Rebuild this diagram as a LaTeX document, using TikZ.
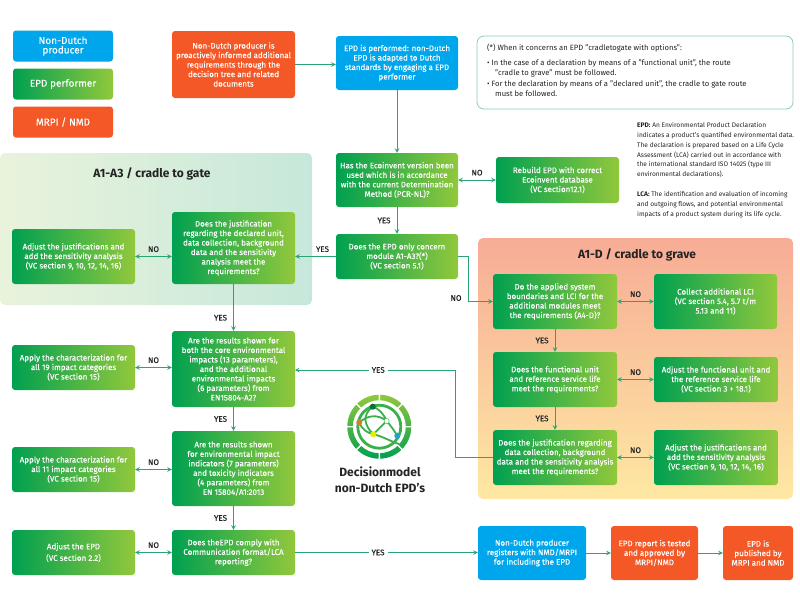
\documentclass[tikz,border=0pt]{standalone}
\usepackage{fontspec}
\setmainfont{Fira Sans}
\newfontfamily\boxfont[FakeBold=0.12]{Fira Sans}
\usepackage{xcolor}
\usetikzlibrary{shapes.geometric, arrows}
\definecolor{epdgreen}{RGB}{0,160,80}
\definecolor{epdlime}{RGB}{145,200,60}
\definecolor{epdblue}{RGB}{0,166,235}
\definecolor{epdorange}{RGB}{244,88,38}
\definecolor{epdline}{RGB}{40,165,115}
\definecolor{epdring}{RGB}{135,208,182}
\definecolor{epdink}{RGB}{35,35,35}
\definecolor{gateleft}{RGB}{233,243,220}
\definecolor{gateright}{RGB}{198,232,218}
\definecolor{gravetop}{RGB}{247,172,150}
\definecolor{gravebottom}{RGB}{254,232,163}
\tikzstyle{box} = [rectangle, rounded corners=3pt, align=center, text=white, font=\boxfont\fontsize{8}{9.5}\selectfont, inner sep=0pt]
\tikzstyle{greenbox} = [box, left color=epdgreen, right color=epdlime, minimum width=123pt, minimum height=55pt]
\tikzstyle{bluebox} = [box, fill=epdblue, minimum width=122pt, minimum height=54pt]
\tikzstyle{orangebox} = [box, fill=epdorange, minimum height=54pt]
\tikzstyle{legendbox} = [box, minimum width=100pt, minimum height=31pt, font=\boxfont\fontsize{10}{9.5}\selectfont]
\tikzstyle{arrow} = [draw=epdline, line width=1pt, ->, >=stealth]
\tikzstyle{both} = [draw=epdline, line width=1pt, <->, >=stealth]
\tikzstyle{answer} = [text=epdink, font=\boxfont\fontsize{8}{9}\selectfont, inner sep=1pt]
\tikzstyle{title} = [text=epdink, font=\fontsize{12}{13}\selectfont\bfseries]

\begin{document}
\begin{tikzpicture}[x=1pt, y=-1pt, node distance=80pt]
\useasboundingbox (0,0) rectangle (800,600);

% panels
\node (gatepanel) [rectangle, rounded corners=5pt, minimum width=312pt, minimum height=152pt, inner sep=0pt, left color=gateleft, right color=gateright] at (156,229) {};
\node (gravepanel) [rectangle, rounded corners=5pt, minimum width=315pt, minimum height=261pt, inner sep=0pt, top color=gravetop, bottom color=gravebottom] at (635.5,368.5) {};
\node (gatetitle) [title] at (152,174) {A1-A3 / cradle to gate};
\node (gravetitle) [title] at (637,255) {A1-D / cradle to grave};

% legend
\node (legendblue) [legendbox, fill=epdblue] at (63,46) {Non-Dutch\\producer};
\node (legendgreen) [legendbox, left color=epdgreen, right color=epdlime, below of=legendblue, yshift=42pt] {EPD performer};
\node (legendorange) [legendbox, fill=epdorange, below of=legendgreen, yshift=42pt] {MRPI / NMD};

% main column
\node (informed) [orangebox, minimum width=123pt, minimum height=67pt] at (233.5,64.5) {Non-Dutch producer is\\proactively informed additional\\requirements through the\\decision tree and related\\documents};
\node (performed) [bluebox, right of=informed, xshift=83.5pt, yshift=1.5pt] {EPD is performed: non-Dutch\\EPD is adapted to Dutch\\standards by engaging a EPD\\performer};
\node (ecoinvent) [greenbox, minimum width=122pt, minimum height=54pt, below of=performed, yshift=-37pt] {Has the Ecoinvent version been\\used which is in accordance\\with the current Determination\\Method (PCR-NL)?};
\node (rebuild) [greenbox, minimum height=46pt, right of=ecoinvent, xshift=80.5pt] {Rebuild EPD with correct\\Ecoinvent database\\(VC section12.1)};
\node (module) [greenbox, minimum width=122pt, minimum height=45pt, below of=ecoinvent, yshift=3.5pt] {Does the EPD only concern\\module A1-A3?(*)\\(VC section 5.1)};
\node (justify) [greenbox, minimum height=72pt, left of=module, xshift=-83.5pt, yshift=8.5pt] {Does the justification\\regarding the declared unit,\\data collection, background\\data and the sensitivity\\analysis meet the\\requirements?};
\node (adjustgate) [greenbox, left of=justify, xshift=-80pt, yshift=-8.5pt] {Adjust the justifications and\\add the sensitivity analysis\\(VC section 9, 10, 12, 14, 16)};
\node (resultsa) [greenbox, minimum height=76pt, below of=justify, yshift=-41pt] {Are the results shown for\\both the core environmental\\impacts (13 parameters),\\and the additional\\environmental impacts\\(6 parameters) from\\EN15804-A2?};
\node (applya) [greenbox, minimum height=45pt, left of=resultsa, xshift=-80pt, yshift=1.5pt] {Apply the characterization for\\all 19 impact categories\\(VC section 15)};
\node (resultsb) [greenbox, minimum height=75pt, below of=resultsa, yshift=-19.5pt] {Are the results shown\\for environmental impact\\indicators (7 parameters)\\and toxicity indicators\\(4 parameters) from\\EN 15804/A1:2013};
\node (applyb) [greenbox, minimum height=45pt, left of=resultsb, xshift=-80pt, yshift=-1pt] {Apply the characterization for\\all 11 impact categories\\(VC section 15)};
\node (comply) [greenbox, minimum height=45pt, below of=resultsb, yshift=-4pt] {Does theEPD comply with\\Communication format/LCA\\reporting?};
\node (adjustepd) [greenbox, minimum height=45pt, left of=comply, xshift=-80pt] {Adjust the EPD\\[2pt](VC section 2.2)};

% cradle to grave
\node (applied) [greenbox, minimum width=124pt, right of=module, xshift=78pt, yshift=-45pt] {Do the applied system\\boundaries and LCI for the\\additional modules meet\\the requirements (A4-D)?};
\node (collect) [greenbox, right of=applied, xshift=80.5pt] {Collect additional LCI\\(VC section 5.4, 5.7 t/m\\5.13 and 11)};
\node (funcunit) [greenbox, minimum width=124pt, below of=applied, yshift=2pt] {Does the functional unit\\and reference service life\\meet the requirements?};
\node (adjustfunc) [greenbox, minimum width=124pt, minimum height=45pt, right of=funcunit, xshift=81pt] {Adjust the functional unit and\\the reference service life\\(VC section 3 + 18.1)};
\node (justgrave) [greenbox, minimum width=124pt, below of=funcunit, yshift=2pt] {Does the justification regarding\\data collection, background\\data and the sensitivity analysis\\meet the requirements?};
\node (adjustgrave) [greenbox, minimum width=124pt, right of=justgrave, xshift=81pt] {Adjust the justifications and\\add the sensitivity analysis\\(VC section 9, 10, 12, 14, 16)};

% bottom row
\node (register) [bluebox, minimum width=108pt, right of=comply, xshift=218.5pt, yshift=-0.5pt] {Non-Dutch producer\\registers with NMD/MRPI\\for including the EPD};
\node (tested) [orangebox, minimum width=87pt, right of=register, xshift=42.5pt] {EPD report is tested\\and approved by\\MRPI/NMD};
\node (published) [orangebox, minimum width=70pt, right of=tested, xshift=23.5pt] {EPD is\\published by\\MRPI and NMD};

% notes
\node (note) [rectangle, rounded corners=7pt, draw=epdring, line width=0.8pt, minimum width=316pt, minimum height=73pt, inner sep=0pt] at (635,72.5) {};
\node (notetext) [anchor=north west, align=left, text=epdink, inner sep=0pt, font=\fontsize{7.65}{10.3}\selectfont] at (487,43.5) {(*) When it concerns an EPD "cradletogate with options":\\[5pt]\textbullet{} In the case of a declaration by means of a "functional unit", the route\\\hspace*{8pt}"cradle to grave" must be followed.\\\textbullet{} For the declaration by means of a "declared unit", the cradle to gate route\\\hspace*{8pt}must be followed.};
\node (glossary) [anchor=north west, align=left, text=epdink, inner sep=0pt, font=\fontsize{6.6}{9.9}\selectfont] at (637,122) {\textbf{EPD:} An Environmental Product Declaration\\indicates a product's quantified environmental data.\\The declaration is prepared based on a Life Cycle\\Assessment (LCA) carried out in accordance with\\the international standard ISO 14025 (type III\\environmental declarations).\\[9.9pt]\textbf{LCA:} The identification and evaluation of incoming\\and outgoing flows, and potential environmental\\impacts of a product system during its life cycle.};

% connectors
\draw [arrow] (informed) -- (informed -| performed.west);
\draw [arrow] (performed) -- (ecoinvent);
\draw [both] (ecoinvent) -- node [answer, above, yshift=3pt] {NO} (rebuild);
\draw [arrow] (ecoinvent) -- node [answer, left, xshift=-5pt] {YES} (module);
\draw [arrow] (module) -- node [answer, above, yshift=3pt, xshift=7pt] {YES} (module -| justify.east);
\draw [both] (adjustgate.east) -- node [answer, above, yshift=3pt] {NO} (adjustgate -| justify.west);
\draw [arrow] (justify) -- node [answer, left, xshift=-5pt, pos=0.72] {YES} (resultsa);
\draw [both] (applya.east) -- node [answer, above, yshift=3pt] {NO} (applya -| resultsa.west);
\draw [arrow] (resultsa) -- node [answer, left, xshift=-5pt] {YES} (resultsb);
\draw [both] (applyb.east) -- node [answer, above, yshift=3pt] {NO} (applyb -| resultsb.west);
\draw [arrow] (resultsb) -- node [answer, left, xshift=-5pt] {YES} (comply);
\draw [both] (adjustepd) -- node [answer, above, yshift=3pt] {NO} (comply);
\coordinate (bendgrave) at (468,256.5);
\coordinate (bendresults) at (455,457.5);
\draw [arrow] (module) -- (bendgrave) |- (applied);
\node (nograve) [answer] at (456,298) {NO};
\draw [both] (applied) -- node [answer, above, yshift=3pt] {NO} (collect);
\draw [arrow] (applied) -- node [answer, left, xshift=-5pt] {YES} (funcunit);
\draw [both] (funcunit) -- node [answer, above, yshift=3pt] {NO} (adjustfunc);
\draw [arrow] (funcunit) -- node [answer, left, xshift=-5pt] {YES} (justgrave);
\draw [both] (justgrave) -- node [answer, above, yshift=3pt] {NO} (adjustgrave);
\coordinate (entryresults) at (295,370);
\draw [arrow] (justgrave) -- (bendresults) |- node [answer, fill=white, pos=0.74, inner xsep=3pt] {YES} (entryresults);
\draw [arrow] (comply) -- node [answer, fill=white, pos=0.4536, inner xsep=3pt] {YES} (comply -| register.west);
\draw [arrow] (register) -- (tested);
\draw [arrow] (tested) -- (published);

% logo
\coordinate (logo) at (379.3,426.7);
\path [even odd rule, top color=epdlime, bottom color=epdgreen] (logo) circle (32) circle (26.5);
\draw [white, line width=1.4pt] (logo) ++(0:26) -- ++(0:7) (logo) ++(45:26) -- ++(45:7) (logo) ++(90:26) -- ++(90:7) (logo) ++(135:26) -- ++(135:7) (logo) ++(180:26) -- ++(180:7) (logo) ++(225:26) -- ++(225:7) (logo) ++(270:26) -- ++(270:7) (logo) ++(315:26) -- ++(315:7);
\draw [epdgreen!60!epdlime, line width=2.8pt] (logo) circle (21.5);
\coordinate (dotgreen) at (372.7,406.7);
\coordinate (dotbrown) at (359.3,422.3);
\coordinate (dotwhite) at (386.7,421);
\coordinate (dotyellow) at (373.3,434.3);
\coordinate (dotcyan) at (397.3,435.7);
\draw [epdgreen!60!epdlime, line width=1.8pt] (dotgreen) .. controls (362,415) and (364,425) .. (dotyellow) (dotgreen) .. controls (378,408) and (384,414) .. (dotwhite) (dotbrown) .. controls (368,415) and (378,414) .. (dotwhite) (dotwhite) -- (dotyellow) (dotwhite) .. controls (390,425) and (394,430) .. (dotcyan) (dotbrown) .. controls (362,430) and (368,433) .. (dotyellow) (dotyellow) .. controls (382,436) and (392,442) .. (399,444);
\fill [epdgreen!70!black] (dotgreen) circle (3);
\fill [brown!80!orange] (dotbrown) circle (3);
\filldraw [fill=white, draw=epdgreen!60!epdlime] (dotwhite) circle (2.6);
\fill [yellow!90!green] (dotyellow) circle (3);
\fill [cyan!80!teal] (dotcyan) circle (3);
\node (logotext) [align=center, text=epdink, font=\fontsize{12}{16}\selectfont\bfseries] at (380,480) {Decisionmodel\\non-Dutch EPD's};
\end{tikzpicture}
\end{document}
